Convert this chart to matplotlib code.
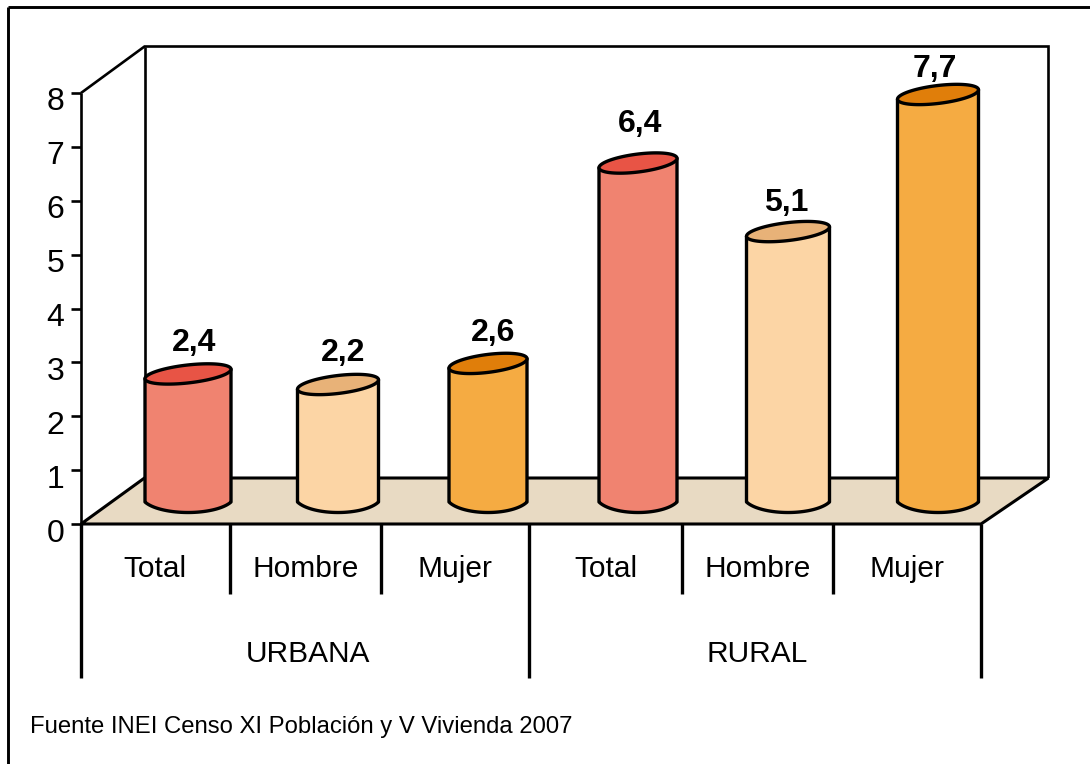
import numpy as np
import matplotlib
matplotlib.use("Agg")
import matplotlib.pyplot as plt
from matplotlib.patches import Polygon

groups = ["URBANA", "RURAL"]
categories = ["Total", "Hombre", "Mujer", "Total", "Hombre", "Mujer"]
values = [2.4, 2.2, 2.6, 6.4, 5.1, 7.7]
value_labels = ["2,4", "2,2", "2,6", "6,4", "5,1", "7,7"]
y_ticks = [0, 1, 2, 3, 4, 5, 6, 7, 8]
source = "Fuente INEI Censo XI Población y V Vivienda 2007"

body_colors = ["#F08370", "#FCD5A5", "#F5AB42", "#F08370", "#FCD5A5", "#F5AB42"]
top_colors = ["#E85445", "#E8B278", "#E07E0A", "#E85445", "#E8B278", "#E07E0A"]
widths_px = [86, 81, 78, 78, 83, 81]
label_dx_px = [6, 5, 5, 2, -2, -3]
label_dy_px = [31, 31, 30, 39, 29, 25]

W, H = 1090, 764
plt.rcParams["font.family"] = ["Liberation Sans", "DejaVu Sans"]
fig = plt.figure(figsize=(W / 100, H / 100), dpi=100, facecolor="white")

# front plane: x = category units (150 px each), y = value on the axis scale
X0, XU = 81.0, 150.0
Y0, YU = 524.0, 53.875
ax = fig.add_axes([0, 0, 1, 1], zorder=1)
ax.set_xlim(-X0 / XU, (W - X0) / XU)
ax.set_ylim(-(H - Y0) / YU, Y0 / YU)
ax.axis("off")

# bar plane, set back: y scale slightly smaller, baseline higher
BY0, BYU = 500.5, 52.73
bx = fig.add_axes([0, 0, 1, 1], zorder=2)
bx.set_xlim(ax.get_xlim())
bx.set_ylim(-(H - BY0) / BYU, BY0 / BYU)
bx.axis("off")
bx.patch.set_alpha(0)

LW = 2.4
WALL_LW = 1.9
ink = "black"

def px_x(p):
    return (p - X0) / XU

def px_y(p):
    return (Y0 - p) / YU

def line(xs, ys, lw=LW):
    ax.plot([px_x(x) for x in xs], [px_y(y) for y in ys], color=ink, lw=lw,
            solid_capstyle="butt", solid_joinstyle="miter", clip_on=False)

# outer frame
line([8, 8], [H, 6.5], lw=2.1)
line([8, 1090], [6.5, 6.5], lw=2.1)

# walls
line([81, 144.5, 1048.5, 1048.5], [93, 46.5, 46.5, 478], lw=WALL_LW)
line([144.5, 144.5], [46.5, 478], lw=WALL_LW)

# floor
floor = [(81, 524), (144.5, 478), (1048.5, 478), (981, 524)]
ax.add_patch(Polygon([(px_x(a), px_y(b)) for a, b in floor], closed=True,
                     facecolor="#E8DAC3", edgecolor=ink, lw=LW - 0.2, joinstyle="miter"))

# y axis with ticks
ax.plot([0, 0], [0, 8], color=ink, lw=WALL_LW, solid_capstyle="butt")
for t in y_ticks:
    ax.plot([px_x(71), 0], [t, t], color=ink, lw=WALL_LW, solid_capstyle="butt")
    ax.text(px_x(64.5), t - 6 / YU, str(t), ha="right", va="center_baseline", fontsize=23, color=ink)

# multi-level category axis
dividers_px = [81, 230, 381, 529, 682, 833, 981]
for i, p in enumerate(dividers_px):
    bottom = 678 if i in (0, 3, 6) else 594
    line([p, p], [524, bottom])
for i, c in enumerate(categories):
    mid = (dividers_px[i] + dividers_px[i + 1]) / 2
    ax.text(px_x(mid - (1 if i == 0 else 0)), px_y(569), c, ha="center", va="center", fontsize=21.5, color=ink)
for g, (a, b), dx in zip(groups, [(0, 3), (3, 6)], [3, 2]):
    mid = (dividers_px[a] + dividers_px[b]) / 2 + dx
    ax.text(px_x(mid), px_y(654), g, ha="center", va="center", fontsize=21.5, color=ink)

ax.text(px_x(30), px_y(727), source, ha="left", va="center", fontsize=17.2, color=ink)

# cylinders
tt = np.linspace(0, 2 * np.pi, 120)
t0 = np.radians(22)
arc = np.linspace(t0, np.pi - t0, 80)
for i, (v, lab, wpx, cb, ct, ldx, ldy) in enumerate(
        zip(values, value_labels, widths_px, body_colors, top_colors, label_dx_px, label_dy_px)):
    cx = i + 0.5 + 32 / XU
    hw = wpx / 2 / XU
    dy_tilt, b_top = 4.7 / BYU, 9.0 / BYU
    side = -1.5 / BYU
    drop = 10.5 / BYU
    ax_ = hw * np.cos(arc) / np.cos(t0)
    ay_ = side - drop * (np.sin(arc) - np.sin(t0)) / (1 - np.sin(t0))
    body_x = np.concatenate([[cx - hw], cx + ax_[::-1], [cx + hw]])
    body_y = np.concatenate([[v - dy_tilt], ay_[::-1], [v + dy_tilt]])
    bx.add_patch(Polygon(np.column_stack([body_x, body_y]), closed=True, facecolor=cb,
                         edgecolor=ink, lw=LW, joinstyle="round"))
    ex = cx + hw * np.cos(tt)
    ey = v + dy_tilt * np.cos(tt) + b_top * np.sin(tt)
    bx.add_patch(Polygon(np.column_stack([ex, ey]), closed=True, facecolor=ct,
                         edgecolor=ink, lw=LW, joinstyle="round"))
    bx.text(cx + ldx / XU, v + ldy / BYU, lab, ha="center", va="center",
            fontsize=23, fontweight="bold", color=ink)

fig.savefig("out.png", dpi=100, facecolor="white")
